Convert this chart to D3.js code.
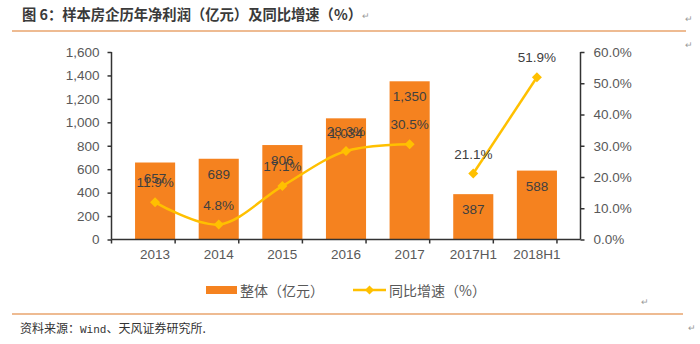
<!DOCTYPE html>
<html>
<head>
<meta charset="utf-8">
<script src="https://cdn.jsdelivr.net/npm/d3@7"></script>
<style>
  body { margin: 0; background: #fff; }
  svg { display: block; }
  text { font-family: "Liberation Sans", Arial, "Noto Sans CJK SC", sans-serif; }
  .cn { font-family: "Noto Sans CJK SC", sans-serif; }
</style>
</head>
<body>
<div id="chart"></div>
<script>
// chart data
const categories = ["2013", "2014", "2015", "2016", "2017", "2017H1", "2018H1"];
const profit = [657, 689, 806, 1034, 1350, 387, 588];
const growth = [11.9, 4.8, 17.1, 28.3, 30.5, 21.1, 51.9];
const period = ["年", "年", "年", "年", "年", "半年", "半年"];
const leftTicks = [0, 200, 400, 600, 800, 1000, 1200, 1400, 1600];
const rightTicks = [0, 10, 20, 30, 40, 50, 60];

const width = 700;
const height = 344;
const barColor = "#F5821F";
const lineColor = "#FFC000";
const textColor = "#595959";

const svg = d3.select("#chart").append("svg")
    .attr("width", width)
    .attr("height", height);

// header
svg.append("text")
    .attr("class", "cn")
    .attr("x", 22).attr("y", 20)
    .attr("font-size", 14.3)
    .attr("font-weight", "bold")
    .attr("fill", "#3a3a3a")
    .text("图 6：样本房企历年净利润（亿元）及同比增速（%）");

svg.append("line")
    .attr("x1", 12).attr("x2", 686)
    .attr("y1", 31).attr("y2", 31)
    .attr("stroke", "#E8A46E").attr("stroke-width", 1.5);

const x = d3.scaleBand()
    .domain(categories)
    .range([111.5, 580.5])
    .padding(0.37);

const y = d3.scaleLinear()
    .domain([0, 1600])
    .range([239.5, 52]);

const y2 = d3.scaleLinear()
    .domain([0, 60])
    .range([239.5, 52]);

// bars
svg.selectAll("rect.bar").data(categories)
  .enter().append("rect")
    .attr("class", "bar")
    .attr("x", c => x(c))
    .attr("width", x.bandwidth())
    .attr("y", (c, i) => y(profit[i]))
    .attr("height", (c, i) => y(0) - y(profit[i]))
    .attr("fill", barColor);

// axes
const axisColor = "#333";

const leftAxis = svg.append("g")
    .attr("transform", "translate(111.5,0)")
    .call(d3.axisLeft(y).tickValues(leftTicks).tickSize(4).tickPadding(8).tickFormat(d3.format(",")));

const rightAxis = svg.append("g")
    .attr("transform", "translate(580.5,0)")
    .call(d3.axisRight(y2).tickValues(rightTicks).tickSize(4).tickPadding(9).tickFormat(d => d.toFixed(1) + "%"));

const bottomAxis = svg.append("g")
    .attr("transform", "translate(0,239.5)")
    .call(d3.axisBottom(x).tickSize(0).tickPadding(10));

// ticks at the category boundaries
const step = x.step();
const bounds = d3.range(categories.length + 1).map(i => 111.5 + i * step);
bottomAxis.selectAll("line.bound").data(bounds)
  .enter().append("line")
    .attr("class", "bound")
    .attr("x1", d => d).attr("x2", d => d)
    .attr("y1", 0).attr("y2", 4)
    .attr("stroke", axisColor).attr("stroke-width", 1.5);

[leftAxis, rightAxis, bottomAxis].forEach(g => {
  g.select(".domain").attr("stroke", axisColor).attr("stroke-width", 1.5);
  g.selectAll(".tick line").attr("stroke", axisColor).attr("stroke-width", 1.5);
  g.selectAll("text")
      .attr("fill", textColor)
      .attr("font-size", 13.5)
      .attr("font-family", "'Liberation Sans', Arial, sans-serif");
});
leftAxis.select(".domain").attr("d", "M0,239.5V52");
rightAxis.select(".domain").attr("d", "M0,239.5V52");
bottomAxis.select(".domain").attr("d", "M111.5,0H580.5");

// growth line, broken between annual and half-year values
const points = categories.map((c, i) => ({
  cx: x(c) + x.bandwidth() / 2,
  cy: y2(growth[i]),
  v: growth[i],
  p: period[i]
}));

const line = d3.line()
    .x(d => d.cx)
    .y(d => d.cy)
    .curve(d3.curveCatmullRom.alpha(0.5));

const groups = d3.groups(points, d => d.p).map(g => g[1]);

svg.selectAll("path.growth").data(groups)
  .enter().append("path")
    .attr("class", "growth")
    .attr("d", line)
    .attr("fill", "none")
    .attr("stroke", lineColor)
    .attr("stroke-width", 2.5);

const diamond = (cx, cy, r) => `M${cx},${cy - r}L${cx + r},${cy}L${cx},${cy + r}L${cx - r},${cy}Z`;

svg.selectAll("path.marker").data(points)
  .enter().append("path")
    .attr("class", "marker")
    .attr("d", d => diamond(d.cx, d.cy, 5))
    .attr("fill", lineColor);

// value labels
svg.selectAll("text.barlabel").data(categories)
  .enter().append("text")
    .attr("class", "barlabel")
    .attr("x", c => x(c) + x.bandwidth() / 2)
    .attr("y", (c, i) => y(profit[i]) + 20)
    .attr("text-anchor", "middle")
    .attr("font-size", 13.5)
    .attr("fill", "#404040")
    .text((c, i) => d3.format(",")(profit[i]));

svg.selectAll("text.ptlabel").data(points)
  .enter().append("text")
    .attr("class", "ptlabel")
    .attr("x", d => d.cx)
    .attr("y", d => d.cy - 15)
    .attr("text-anchor", "middle")
    .attr("font-size", 13.5)
    .attr("fill", "#404040")
    .text(d => d.v.toFixed(1) + "%");

// legend
const legend = svg.append("g");
legend.append("rect")
    .attr("x", 206).attr("y", 286)
    .attr("width", 31).attr("height", 8)
    .attr("fill", barColor);
legend.append("text")
    .attr("class", "cn")
    .attr("x", 240).attr("y", 295.5)
    .attr("font-size", 14)
    .attr("fill", textColor)
    .text("整体（亿元）");
legend.append("line")
    .attr("x1", 353).attr("x2", 386)
    .attr("y1", 290).attr("y2", 290)
    .attr("stroke", lineColor).attr("stroke-width", 2.5);
legend.append("path")
    .attr("d", diamond(369.5, 290, 4.5))
    .attr("fill", lineColor);
legend.append("text")
    .attr("class", "cn")
    .attr("x", 389).attr("y", 295.5)
    .attr("font-size", 14)
    .attr("fill", textColor)
    .text("同比增速（%）");

// footer
svg.append("line")
    .attr("x1", 12).attr("x2", 683)
    .attr("y1", 314).attr("y2", 314)
    .attr("stroke", "#E8A46E").attr("stroke-width", 1.5);

const source = svg.append("text")
    .attr("class", "cn")
    .attr("x", 20).attr("y", 333)
    .attr("font-size", 12)
    .attr("fill", "#333");
source.append("tspan").text("资料来源：");
source.append("tspan")
    .attr("font-family", "'Liberation Mono', monospace")
    .attr("font-size", 11)
    .text("Wind");
source.append("tspan").text("、天风证券研究所.");

// paragraph marks from the source document
const marks = [[362, 19], [685, 22], [685, 48], [641, 305], [688, 331]];
svg.selectAll("text.mark").data(marks)
  .enter().append("text")
    .attr("class", "mark")
    .attr("x", d => d[0]).attr("y", d => d[1])
    .attr("font-size", 9)
    .attr("fill", "#9a9a9a")
    .text("↵");
</script>
</body>
</html>
